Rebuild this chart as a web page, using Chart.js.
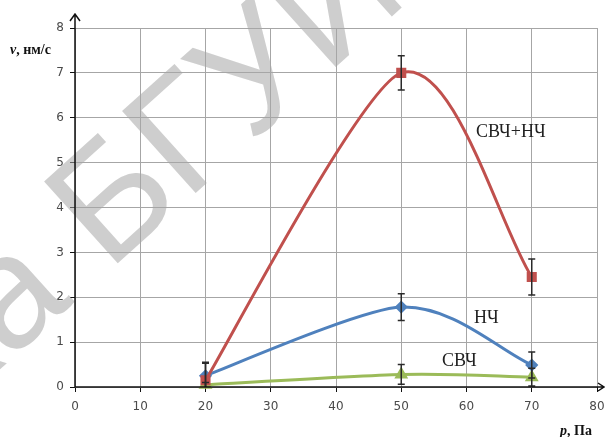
<!DOCTYPE html>
<html>
<head>
<meta charset="utf-8">
<script src="https://cdn.jsdelivr.net/npm/chart.js@4"></script>
<style>
  html, body { margin: 0; padding: 0; background: #fff; }
  #wrap { width: 605px; height: 437px; }
</style>
</head>
<body>
<div id="wrap"><canvas id="chart" width="605" height="437"></canvas></div>
<script>
// pressure, Pa
const pressure = [20, 50, 70];

// rate, nm/s
const mixValues = [0.15, 7.0, 2.45];   // СВЧ+НЧ
const lfValues = [0.25, 1.78, 0.49];   // НЧ
const mwValues = [0.05, 0.28, 0.22];   // СВЧ

// error bar half-widths
const mixErrors = [0.38, 0.38, 0.4];
const lfErrors = [0.3, 0.3, 0.29];
const mwErrors = [0.05, 0.22, 0.2];

const seriesNames = ["СВЧ+НЧ", "НЧ", "СВЧ"];
const xTicks = [0, 10, 20, 30, 40, 50, 60, 70, 80];
const yTicks = [0, 1, 2, 3, 4, 5, 6, 7, 8];

const toPoints = (vals) => pressure.map((p, i) => ({ x: p, y: vals[i] }));

function makeSet(name, vals, errs, color, style, radius) {
  return {
    label: name,
    data: toPoints(vals),
    errors: errs,
    borderColor: color,
    backgroundColor: color,
    borderWidth: 3,
    tension: 0.4,
    pointStyle: style,
    pointRadius: radius,
    pointHoverRadius: radius,
    showLine: true,
    clip: false,
  };
}

// excel-like smoothing: replace the bezier control points before the line is drawn
const smoothing = {
  id: "smoothing",
  beforeDatasetDraw(chart, args) {
    const pts = args.meta.data;
    for (let i = 0; i < pts.length; i++) {
      const p = pts[i];
      const prev = pts[i - 1];
      const next = pts[i + 1];
      if (prev && next) {
        const dx = next.x - prev.x;
        const dy = next.y - prev.y;
        p.cp1x = p.x - 0.12 * dx;
        p.cp1y = p.y - 0.12 * dy;
        p.cp2x = p.x + 0.16 * dx;
        p.cp2y = p.y + 0.16 * dy;
      } else if (next) {
        p.cp1x = p.x;
        p.cp1y = p.y;
        p.cp2x = p.x + 0.1 * (next.x - p.x);
        p.cp2y = p.y + 0.1 * (next.y - p.y);
      } else if (prev) {
        p.cp1x = p.x - 0.25 * (p.x - prev.x);
        p.cp1y = p.y - 0.25 * (p.y - prev.y);
        p.cp2x = p.x;
        p.cp2y = p.y;
      }
    }
    args.meta.dataset._pointsUpdated = true;
  },
};

// watermark under the data
const watermark = {
  id: "watermark",
  beforeDatasetsDraw(chart) {
    const ctx = chart.ctx;
    ctx.save();
    ctx.font = '160px "Liberation Sans", Arial, sans-serif';
    const pre = "Библиотека ";
    const w = ctx.measureText(pre).width;
    ctx.translate(108, 272);
    ctx.rotate((-42 * Math.PI) / 180);
    ctx.fillStyle = "rgba(165,165,165,0.55)";
    ctx.textBaseline = "alphabetic";
    ctx.fillText(pre + "БГУИР", -w, 0);
    ctx.restore();
  },
};

// error bars, axes with arrows, titles and series labels
const extras = {
  id: "extras",
  afterDatasetsDraw(chart) {
    const ctx = chart.ctx;
    const xs = chart.scales.x;
    const ys = chart.scales.y;
    const area = chart.chartArea;
    ctx.save();
    ctx.strokeStyle = "#2a2a2a";
    ctx.lineWidth = 1.5;
    chart.data.datasets.forEach((ds) => {
      ds.data.forEach((pt, i) => {
        const e = ds.errors[i];
        const px = xs.getPixelForValue(pt.x);
        const top = ys.getPixelForValue(pt.y + e);
        const bot = Math.min(ys.getPixelForValue(pt.y - e), area.bottom);
        ctx.beginPath();
        ctx.moveTo(px, top);
        ctx.lineTo(px, bot);
        ctx.moveTo(px - 3.5, top);
        ctx.lineTo(px + 3.5, top);
        if (bot < area.bottom) {
          ctx.moveTo(px - 3.5, bot);
          ctx.lineTo(px + 3.5, bot);
        }
        ctx.stroke();
      });
    });
    ctx.restore();
  },
  afterDraw(chart) {
    const ctx = chart.ctx;
    const a = chart.chartArea;
    ctx.save();
    // axes
    ctx.strokeStyle = "#111";
    ctx.lineWidth = 1.5;
    ctx.beginPath();
    ctx.moveTo(a.left, a.bottom);
    ctx.lineTo(a.left, 14);
    ctx.moveTo(a.left - 5, 21);
    ctx.lineTo(a.left, 14);
    ctx.lineTo(a.left + 5, 21);
    ctx.moveTo(a.left, a.bottom);
    ctx.lineTo(604, a.bottom);
    ctx.moveTo(598, a.bottom - 4);
    ctx.lineTo(604, a.bottom);
    ctx.lineTo(598, a.bottom + 4);
    ctx.stroke();

    // axis titles
    ctx.fillStyle = "#111";
    ctx.textBaseline = "middle";
    ctx.font = 'italic bold 14px "Liberation Serif", serif';
    ctx.fillText("v", 10, 50);
    let w = ctx.measureText("v").width;
    ctx.font = 'bold 14px "Liberation Serif", serif';
    ctx.fillText(", нм/с", 10 + w, 50);

    ctx.font = 'italic bold 14px "Liberation Serif", serif';
    ctx.fillText("p", 560, 431);
    w = ctx.measureText("p").width;
    ctx.font = 'bold 14px "Liberation Serif", serif';
    ctx.fillText(", Па", 560 + w, 431);

    // series labels
    ctx.fillStyle = "#222";
    ctx.font = '18px "Liberation Serif", serif';
    ctx.fillText(seriesNames[0], 476, 132);
    ctx.fillText(seriesNames[1], 474, 318);
    ctx.fillText(seriesNames[2], 442, 361);
    ctx.restore();
  },
};

new Chart(document.getElementById("chart"), {
  type: "scatter",
  data: {
    datasets: [
      makeSet(seriesNames[0], mixValues, mixErrors, "#C0504D", "rect", 5),
      makeSet(seriesNames[1], lfValues, lfErrors, "#4F81BD", "rectRot", 4.5),
      makeSet(seriesNames[2], mwValues, mwErrors, "#9BBB59", "triangle", 5),
    ],
  },
  options: {
    responsive: false,
    animation: false,
    layout: { padding: { top: 28, right: 7, left: 0, bottom: 0 } },
    plugins: { legend: { display: false }, tooltip: { enabled: false } },
    scales: {
      x: {
        type: "linear",
        min: 0,
        max: 80,
        afterFit: (s) => {
          s.height = 50;
          s.paddingLeft = 0;
          s.paddingRight = 0;
        },
        afterBuildTicks: (s) => { s.ticks = xTicks.map((v) => ({ value: v })); },
        border: { display: false },
        grid: { color: "#a6a6a6", lineWidth: 1, tickLength: 5, tickColor: "#111", drawTicks: true },
        ticks: { color: "#4a4a4a", font: { family: '"DejaVu Sans", sans-serif', size: 12 }, padding: 8, maxRotation: 0 },
      },
      y: {
        min: 0,
        max: 8,
        afterFit: (s) => {
          s.width = 75;
          s.paddingTop = 0;
          s.paddingBottom = 0;
        },
        afterBuildTicks: (s) => { s.ticks = yTicks.map((v) => ({ value: v })); },
        border: { display: false },
        grid: { color: "#a6a6a6", lineWidth: 1, tickLength: 5, tickColor: "#111", drawTicks: true },
        ticks: { color: "#4a4a4a", font: { family: '"DejaVu Sans", sans-serif', size: 12 }, padding: 6 },
      },
    },
  },
  plugins: [smoothing, watermark, extras],
});
</script>
</body>
</html>
